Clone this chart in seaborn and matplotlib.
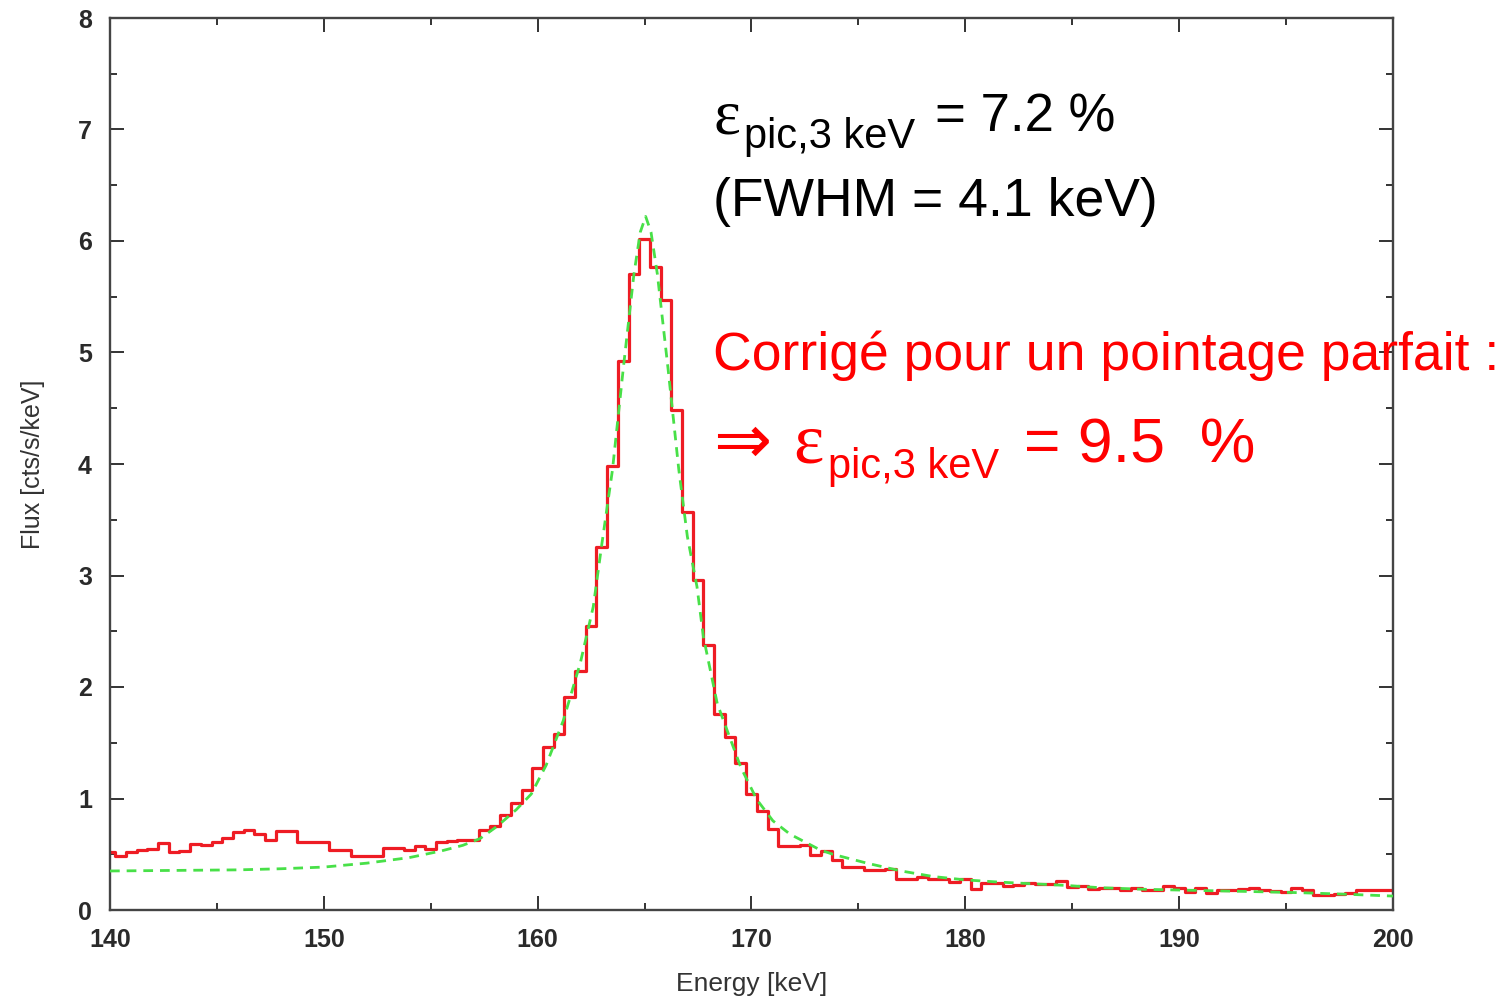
import numpy as np
import seaborn as sns
import matplotlib
matplotlib.use("Agg")
import matplotlib.pyplot as plt
from matplotlib.ticker import MultipleLocator

# measured spectrum, 0.5 keV bins centred on these energies
energy = np.arange(140.0, 200.5, 0.5)
flux = [
    0.52, 0.48, 0.52, 0.54, 0.545, 0.60, 0.52, 0.53, 0.59, 0.58,   # 140-144.5
    0.61, 0.65, 0.70, 0.72, 0.68, 0.63, 0.71, 0.71, 0.61, 0.61,    # 145-149.5
    0.61, 0.54, 0.54, 0.48, 0.48, 0.48, 0.56, 0.56, 0.54, 0.57,    # 150-154.5
    0.55, 0.61, 0.62, 0.63, 0.63, 0.72, 0.75, 0.85, 0.96, 1.08,    # 155-159.5
    1.27, 1.46, 1.58, 1.91, 2.14, 2.55, 3.26, 3.98, 4.92, 5.70,    # 160-164.5
    6.02, 5.77, 5.47, 4.48, 3.57, 2.96, 2.38, 1.76, 1.55, 1.32,    # 165-169.5
    1.04, 0.89, 0.73, 0.57, 0.57, 0.58, 0.49, 0.53, 0.45, 0.39,    # 170-174.5
    0.39, 0.36, 0.355, 0.37, 0.275, 0.28, 0.30, 0.28, 0.275, 0.25, # 175-179.5
    0.275, 0.185, 0.245, 0.245, 0.215, 0.22, 0.24, 0.235, 0.235, 0.26,  # 180-184.5
    0.21, 0.215, 0.19, 0.195, 0.195, 0.18, 0.195, 0.18, 0.175, 0.215,   # 185-189.5
    0.195, 0.165, 0.20, 0.15, 0.18, 0.18, 0.185, 0.195, 0.175, 0.17,    # 190-194.5
    0.165, 0.195, 0.18, 0.135, 0.135, 0.14, 0.15, 0.18, 0.18, 0.18,     # 195-199.5
    0.175,                                                             # 200
]

# fitted model
fit_energy = [140, 143, 146, 148, 150, 152, 154, 155.5, 156.5, 157.3,
              158.1, 159.0, 159.7, 160.4, 161.2, 162.0, 162.6, 163.0, 163.5, 164.0,
              164.5, 164.8, 165.05, 165.3, 165.6, 166.1, 166.6, 167.0, 167.45, 167.75,
              168.4, 169.5, 170.25, 171.0, 171.8, 172.3, 173.2, 173.8, 175.4, 177.0,
              178.5, 180.0, 181.6, 184.75, 186.3, 188.5, 191.0, 193.5, 195.7, 198.0, 200.0]
fit_flux = [0.35, 0.355, 0.36, 0.37, 0.385, 0.42, 0.47, 0.53, 0.58, 0.64,
            0.75, 0.90, 1.04, 1.30, 1.70, 2.22, 2.72, 3.28, 3.95, 4.85,
            5.70, 6.08, 6.22, 6.08, 5.70, 4.85, 3.95, 3.35, 2.90, 2.45,
            1.85, 1.28, 0.99, 0.80, 0.68, 0.63, 0.54, 0.50, 0.42, 0.35,
            0.30, 0.27, 0.25, 0.22, 0.20, 0.185, 0.175, 0.165, 0.155, 0.14, 0.125]

sns.set_style("ticks")
plt.rcParams["font.family"] = ["Liberation Sans", "DejaVu Sans"]

fig = plt.figure(figsize=(15.04, 9.97), dpi=100)
ax = fig.add_axes([110 / 1504, 1 - 910 / 997, (1393 - 110) / 1504, (910 - 18) / 997])

sns.lineplot(x=energy, y=flux, ax=ax, color="#ee1c24", linewidth=2.3,
             drawstyle="steps-mid", errorbar=None, zorder=2)
sns.lineplot(x=fit_energy, y=fit_flux, ax=ax, color="#48e048", linewidth=2.0,
             dashes=False, errorbar=None, zorder=3)
ax.lines[-1].set_dashes((3.5, 2.5))

ax.set_xlim(140, 200)
ax.set_ylim(0, 8)
ax.xaxis.set_major_locator(MultipleLocator(10))
ax.xaxis.set_minor_locator(MultipleLocator(5))
ax.yaxis.set_major_locator(MultipleLocator(1))
ax.yaxis.set_minor_locator(MultipleLocator(0.5))
ax.tick_params(which="both", direction="in", top=True, right=True,
               color="#333333", width=1.4)
ax.tick_params(which="major", length=10, labelsize=18, labelcolor="#2a2a2a", pad=13)
ax.tick_params(which="minor", length=5)
for lab in ax.get_xticklabels() + ax.get_yticklabels():
    lab.set_fontweight("bold")
for sp in ax.spines.values():
    sp.set_color("#444444")
    sp.set_linewidth(1.7)

ax.set_xlabel("Energy [keV]", fontsize=19, color="#333333", labelpad=14)
ax.set_ylabel("Flux [cts/s/keV]", fontsize=18, color="#333333", labelpad=24)


def put(x, y, s, size, color="black", family=None):
    kw = {}
    if family:
        kw["family"] = family
    fig.text(x / 1504, 1 - y / 997, s, fontsize=size, color=color,
             ha="left", va="baseline", **kw)


# black annotation
put(713, 133, "ε", 46, family=["Liberation Serif", "DejaVu Serif"])
put(744, 148, "pic,3 keV", 30)
put(935, 132, "= 7.2 %", 38)
put(713, 216, "(FWHM = 4.1 keV)", 38.5)

# red annotation
put(713, 370, "Corrigé pour un pointage parfait :", 38.5, color="#ff0000")
put(713, 463, "⇒", 50, color="#ff0000", family=["DejaVu Sans"])
put(793, 462, "ε", 52, color="#ff0000", family=["Liberation Serif", "DejaVu Serif"])
put(828, 478, "pic,3 keV", 30, color="#ff0000")
put(1024, 462, "= 9.5  %", 45, color="#ff0000")

fig.savefig("out.png", dpi=100)
